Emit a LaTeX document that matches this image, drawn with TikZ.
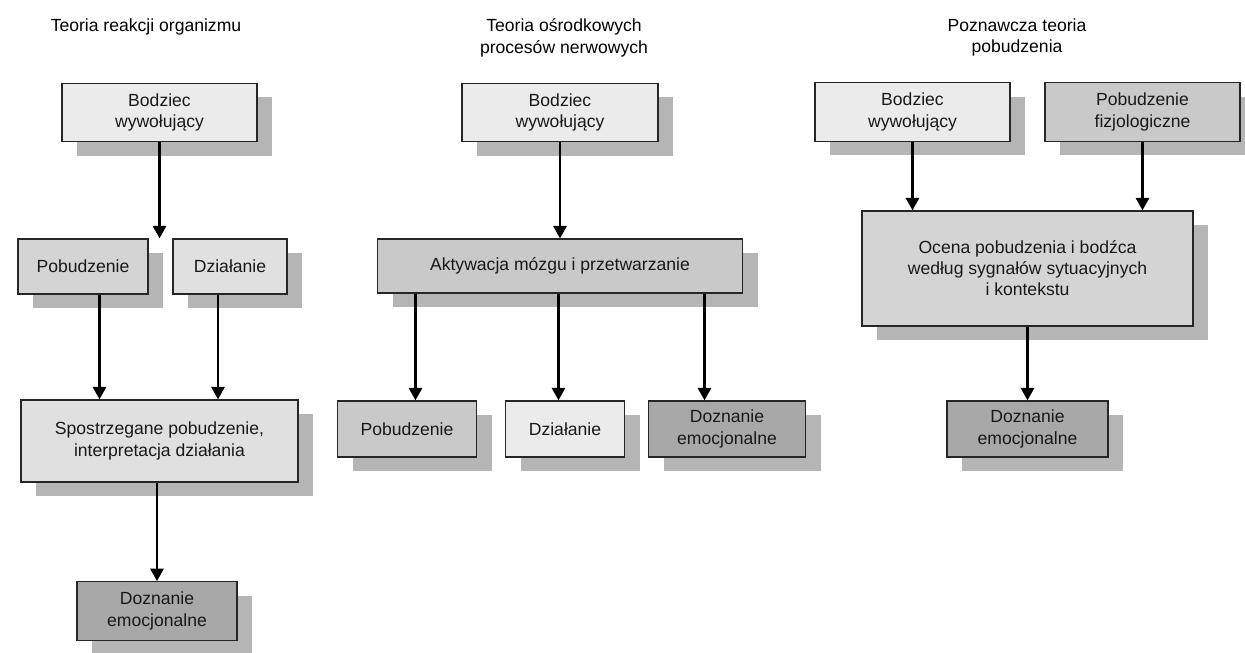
\documentclass[tikz,border=0pt]{standalone}
\usepackage{fontspec}
\setmainfont{Liberation Sans}
\usetikzlibrary{arrows.meta,shadows}

\definecolor{pale}{gray}{0.92}
\definecolor{light}{gray}{0.88}
\definecolor{mid}{gray}{0.83}
\definecolor{midd}{gray}{0.79}
\definecolor{dark}{gray}{0.66}
\definecolor{shade}{gray}{0.71}

\begin{document}
\begin{tikzpicture}[node distance=3.08cm, >={Triangle[width=7.5pt,length=7pt]},
    box/.style={draw=black!85, line width=0.8pt, align=center, inner sep=0pt,
        font=\color{black!90},
        drop shadow={shadow xshift=0.3cm, shadow yshift=-0.28cm, fill=shade, opacity=1}},
    one/.style={minimum height=1.1cm},
    two/.style={minimum height=1.17cm},
    title/.style={align=center, anchor=north, inner sep=0pt},
    every path/.style={line width=1.2pt}]
    \useasboundingbox (0,0) rectangle (24.9,-13.06);

    \node [title] (t1) at (2.92,-0.36) {Teoria reakcji organizmu};
    \node [title] (t2) at (11.28,-0.36) {Teoria ośrodkowych\\procesów nerwowych};
    \node [title] (t3) at (20.34,-0.36) {Poznawcza teoria\\pobudzenia};

    % teoria reakcji organizmu
    \node [box, two, fill=pale, minimum width=3.9cm] (b1) at (3.19,-2.25) {Bodziec\\wywołujący};
    \node [box, one, fill=mid, minimum width=2.6cm, below of=b1, xshift=-1.53cm] (p1) {Pobudzenie};
    \node [box, one, fill=light, minimum width=2.28cm, right of=p1, node distance=2.94cm] (d1) {Działanie};
    \node [box, fill=light, minimum width=5.54cm, minimum height=1.64cm, below of=b1, node distance=6.57cm] (sp) {Spostrzegane pobudzenie,\\interpretacja działania};
    \node [box, two, fill=dark, minimum width=3.2cm, below of=sp, node distance=3.4cm, xshift=-0.05cm] (doz1) {Doznanie\\emocjonalne};
    \draw [->] (b1) -- (b1 |- p1.north);
    \draw [->] ([xshift=0.33cm]p1.south) -- ([xshift=0.33cm]p1.south |- sp.north);
    \draw [->] ([xshift=-0.24cm]d1.south) -- ([xshift=-0.24cm]d1.south |- sp.north);
    \draw [->] (doz1 |- sp.south) -- (doz1.north);

    % teoria osrodkowych procesow nerwowych
    \node [box, two, fill=pale, minimum width=3.92cm] (b2) at (11.2,-2.25) {Bodziec\\wywołujący};
    \node [box, one, fill=midd, minimum width=7.3cm, minimum height=1.08cm, below of=b2, node distance=3.07cm] (akt) {Aktywacja mózgu i przetwarzanie};
    \node [box, two, fill=midd, minimum width=2.78cm, minimum height=1.12cm, below of=akt, node distance=3.26cm, xshift=-3.06cm] (p2) {Pobudzenie};
    \node [box, two, fill=pale, minimum width=2.38cm, minimum height=1.12cm, right of=p2, node distance=3.16cm] (d2) {Działanie};
    \node [box, two, fill=dark, minimum width=3.14cm, minimum height=1.12cm, right of=d2, node distance=3.24cm] (doz2) {Doznanie\\emocjonalne};
    \draw [->] (b2) -- (b2 |- akt.north);
    \draw [->] ([xshift=0.17cm]p2.north |- akt.south) -- ([xshift=0.17cm]p2.north);
    \draw [->] ([xshift=-0.13cm]d2.north |- akt.south) -- ([xshift=-0.13cm]d2.north);
    \draw [->] ([xshift=-0.45cm]doz2.north |- akt.south) -- ([xshift=-0.45cm]doz2.north);

    % poznawcza teoria pobudzenia
    \node [box, two, fill=pale, minimum width=3.9cm] (b3) at (18.25,-2.24) {Bodziec\\wywołujący};
    \node [box, two, fill=midd, minimum width=3.9cm, right of=b3, node distance=4.6cm] (p3) {Pobudzenie\\fizjologiczne};
    \node [box, fill=mid, minimum width=6.62cm, minimum height=2.3cm] (oc) at (20.55,-5.37) {Ocena pobudzenia i bodźca\\według sygnałów sytuacyjnych\\i kontekstu};
    \node [box, two, fill=dark, minimum width=3.22cm, minimum height=1.12cm, below of=oc, node distance=3.21cm] (doz3) {Doznanie\\emocjonalne};
    \draw [->] (b3) -- (b3 |- oc.north);
    \draw [->] (p3) -- (p3 |- oc.north);
    \draw [->] (doz3 |- oc.south) -- (doz3.north);
\end{tikzpicture}
\end{document}
